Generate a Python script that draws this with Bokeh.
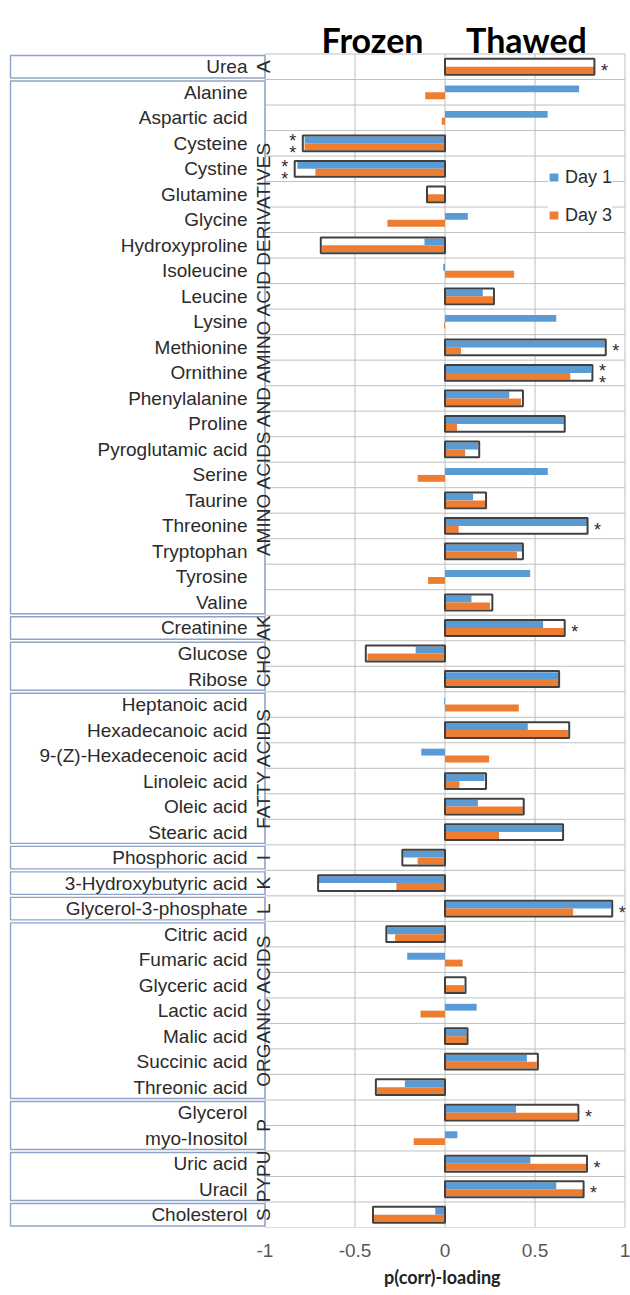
import math
from bokeh.plotting import figure
from bokeh.models import Range1d, FixedTicker, ColumnDataSource, Legend, LegendItem, Title
from bokeh.core.properties import value
from bokeh.embed import file_html
from bokeh.resources import INLINE

# ---------------- data ----------------
metabolites = [
    "Urea", "Alanine", "Aspartic acid", "Cysteine", "Cystine", "Glutamine", "Glycine",
    "Hydroxyproline", "Isoleucine", "Leucine", "Lysine", "Methionine", "Ornithine",
    "Phenylalanine", "Proline", "Pyroglutamic acid", "Serine", "Taurine", "Threonine",
    "Tryptophan", "Tyrosine", "Valine", "Creatinine", "Glucose", "Ribose",
    "Heptanoic acid", "Hexadecanoic acid", "9-(Z)-Hexadecenoic acid", "Linoleic acid",
    "Oleic acid", "Stearic acid", "Phosphoric acid", "3-Hydroxybutyric acid",
    "Glycerol-3-phosphate", "Citric acid", "Fumaric acid", "Glyceric acid", "Lactic acid",
    "Malic acid", "Succinic acid", "Threonic acid", "Glycerol", "myo-Inositol",
    "Uric acid", "Uracil", "Cholesterol",
]
day1 = [0.0, 0.745, 0.57, -0.78, -0.82, 0.0, 0.127, -0.114, -0.01, 0.21, 0.618, 0.888,
        0.813, 0.357, 0.66, 0.183, 0.571, 0.156, 0.79, 0.428, 0.473, 0.147, 0.545,
        -0.163, 0.63, -0.005, 0.46, -0.132, 0.22, 0.183, 0.652, -0.232, -0.70, 0.924,
        -0.32, -0.21, 0.0, 0.176, 0.12, 0.455, -0.223, 0.395, 0.069, 0.474, 0.618, -0.054]
day3 = [0.83, -0.11, -0.018, -0.78, -0.72, -0.10, -0.32, -0.683, 0.384, 0.266, -0.005,
        0.089, 0.696, 0.422, 0.067, 0.112, -0.152, 0.223, 0.076, 0.40, -0.094, 0.25, 0.66,
        -0.43, 0.63, 0.41, 0.683, 0.245, 0.08, 0.433, 0.30, -0.152, -0.27, 0.712, -0.277,
        0.098, 0.107, -0.136, 0.12, 0.51, -0.377, 0.734, -0.174, 0.787, 0.767, -0.397]
# outlined (highlighted) extent per metabolite, None = no outline
highlight = [0.83, None, None, -0.79, -0.835, -0.10, None, -0.69, None, 0.272, None, 0.893,
             0.819, 0.433, 0.665, 0.19, None, 0.228, 0.792, 0.433, None, 0.263, 0.665,
             -0.44, 0.634, None, 0.69, None, 0.228, 0.4375, 0.656, -0.237, -0.705, 0.929,
             -0.326, None, 0.114, None, 0.125, 0.516, -0.384, 0.741, None, 0.789, 0.77, -0.40]
significance = ["*", "", "", "**", "**", "", "", "", "", "", "", "*", "**", "", "", "",
                "", "", "*", "", "", "", "*", "", "", "", "", "", "", "", "", "", "",
                "*", "", "", "", "", "", "", "", "*", "", "*", "*", ""]
group_names = ["A", "AMINO ACIDS AND AMINO ACID DERIVATIVES", "AK", "CHO", "FATTY ACIDS",
               "I", "K", "L", "ORGANIC ACIDS", "P", "PYPU", "S"]
group_sizes = [1, 21, 1, 2, 6, 1, 1, 1, 7, 2, 2, 1]
series_names = ["Day 1", "Day 3"]
tick_values = [-1, -0.5, 0, 0.5, 1]
tick_labels = ["-1", "-0.5", "0", "0.5", "1"]
panel_titles = ["Frozen", "Thawed"]
axis_title = "p(corr)-loading"

# ---------------- layout (pixels) ----------------
W, H = 630, 1295
BOTTOM = 68
FRAME_H = H - BOTTOM
PX_X = 180.0          # pixels per loading unit
PLOT_LEFT = 264.5     # px from figure left to x = -1
TOP_PAD = 53.5        # px from figure top to first row
N = len(metabolites)
ROW = (FRAME_H - TOP_PAD) / N
X0 = -1 - PLOT_LEFT / PX_X
X1 = X0 + W / PX_X
Y_BOT = N - 0.5
Y_TOP = -0.5 - TOP_PAD / ROW

def fx(px):
    return X0 + px / PX_X

def fy(px):
    return Y_TOP + px / ROW

def dxp(px):
    return px / PX_X

def dyp(px):
    return px / ROW

BLUE = "#5B9BD5"
ORANGE = "#ED7D31"
GRID = "#BFBFBF"
FRAME_BLUE = "#8EA4C6"
TXT = "#2B2B2B"
BAR_H = 0.27
BOX_H = 0.31

p = figure(width=W, height=H, x_range=Range1d(X0, X1), y_range=Range1d(Y_BOT, Y_TOP),
           output_backend="svg", toolbar_location=None, y_axis_location=None,
           min_border_left=0, min_border_right=0, min_border_top=0,
           min_border_bottom=BOTTOM, outline_line_color=None)
p.xgrid.visible = False
p.ygrid.visible = False

rows = list(range(N))

# gridlines in the plot area
p.segment(x0=[-1] * (N + 1), x1=[1] * (N + 1), y0=[k - 0.5 for k in range(N + 1)],
          y1=[k - 0.5 for k in range(N + 1)], line_color=GRID, line_width=1)
p.segment(x0=tick_values, x1=tick_values, y0=[-0.5] * len(tick_values),
          y1=[N - 0.5] * len(tick_values), line_color=GRID, line_width=1)

# group boxes in the category area
starts = []
s = 0
for g in group_sizes:
    starts.append(s)
    s += g
ends = [st + g - 1 for st, g in zip(starts, group_sizes)]
p.quad(left=[fx(10)] * len(starts), right=[-1] * len(starts),
       top=[st - 0.5 + dyp(1.5) for st in starts], bottom=[e + 0.5 - dyp(1.5) for e in ends],
       fill_color=None, line_color=FRAME_BLUE, line_width=1.4)

# highlight boxes (white fill behind bars)
hl_rows = [k for k in rows if highlight[k] is not None]
hl_src = ColumnDataSource(dict(
    left=[0] * len(hl_rows), right=[highlight[k] for k in hl_rows],
    top=[k - BOX_H for k in hl_rows], bottom=[k + BOX_H for k in hl_rows]))
p.quad(left="left", right="right", top="top", bottom="bottom", source=hl_src,
       fill_color="white", line_color=None)

src = ColumnDataSource(dict(
    y1=[k - BAR_H / 2 for k in rows], y3=[k + BAR_H / 2 for k in rows],
    d1=day1, d3=day3, name=metabolites))
r1 = p.hbar(y="y1", left=0, right="d1", height=BAR_H, source=src,
            fill_color=BLUE, line_color=None)
r3 = p.hbar(y="y3", left=0, right="d3", height=BAR_H, source=src,
            fill_color=ORANGE, line_color=None)

p.quad(left="left", right="right", top="top", bottom="bottom", source=hl_src,
       fill_color=None, line_color="#404040", line_width=2)

# significance stars
sx, sy, st = [], [], []
for k in rows:
    mark = significance[k]
    if not mark or highlight[k] is None:
        continue
    sgn = 1 if highlight[k] > 0 else -1
    xx = highlight[k] + sgn * dxp(10)
    offs = [0.0] if len(mark) == 1 else [-dyp(6), dyp(6)]
    for o in offs:
        sx.append(xx)
        sy.append(k + o + dyp(4))
        st.append("*")
p.text(x=sx, y=sy, text=st, text_align="center", text_baseline="middle",
       text_font=value("Liberation Sans"), text_font_size="18px", text_color=TXT)

# metabolite labels
p.text(x=[fx(247)] * N, y=rows, text=metabolites, text_align="right",
       text_baseline="middle", text_font=value("Liberation Sans"),
       text_font_size="19px", text_color=TXT)

# group labels (rotated)
p.text(x=[fx(263)] * len(group_names), y=[(a + b) / 2 for a, b in zip(starts, ends)],
       text=group_names, angle=math.pi / 2, text_align="center",
       text_baseline="alphabetic", text_font=value("Liberation Sans"),
       text_font_size="19px", text_color=TXT)

# panel titles
p.text(x=[fx(372), fx(526)], y=[fy(39), fy(39)], text=panel_titles, text_align="center",
       text_baseline="alphabetic", text_font=value("Lato"), text_font_style="bold",
       text_font_size="34px", text_color="#000000")

# axis
ax = p.xaxis[0]
ax.ticker = FixedTicker(ticks=tick_values)
ax.major_label_overrides = {v: l for v, l in zip(tick_values, tick_labels)}
ax.axis_line_color = None
ax.major_tick_line_color = None
ax.minor_tick_line_color = None
ax.major_tick_in = 0
ax.major_tick_out = 0
ax.major_label_standoff = 16
ax.major_label_text_font = "Liberation Sans"
ax.major_label_text_font_size = "19px"
ax.major_label_text_color = "#595959"

# axis title centred under the plotting area
TITLE_W = 117
p.add_layout(Title(text=axis_title, align="left", offset=442 - TITLE_W / 2,
                   text_font="Lato", text_font_style="bold", text_font_size="18px",
                   text_color="#222222", standoff=9), "below")

# legend
legend = Legend(items=[LegendItem(label=series_names[0], renderers=[r1]),
                       LegendItem(label=series_names[1], renderers=[r3])],
                location=(548, FRAME_H - 225.5), orientation="vertical",
                background_fill_color="white", background_fill_alpha=1.0,
                border_line_color=None, label_text_font="Liberation Sans",
                label_text_font_size="18px", label_text_color=TXT,
                glyph_width=11, glyph_height=10, label_height=21, label_standoff=6,
                spacing=17, padding=5, margin=0)
p.add_layout(legend)

open("out.html", "w").write(file_html(p, INLINE))
